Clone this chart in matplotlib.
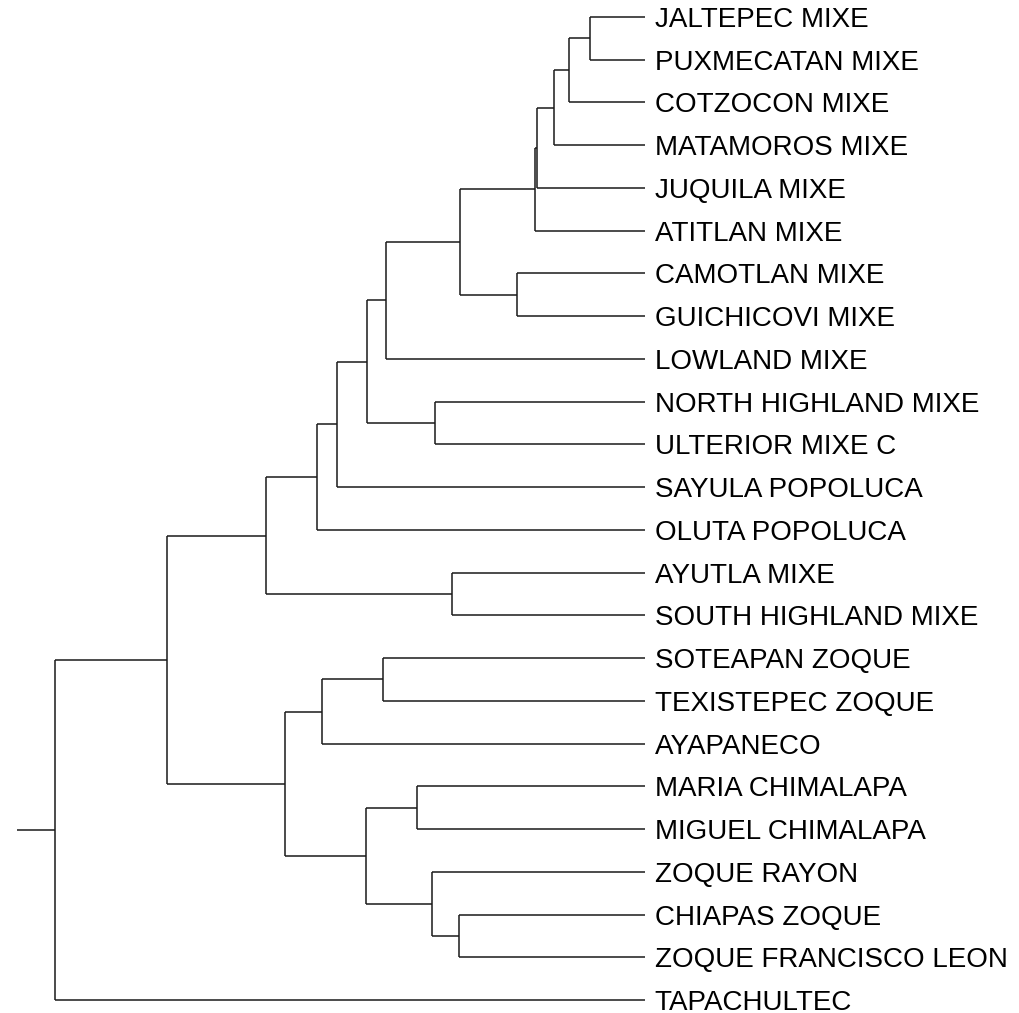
import matplotlib
matplotlib.use("Agg")
import matplotlib.pyplot as plt

# Leaf order from top to bottom
leaves = [
    "JALTEPEC MIXE", "PUXMECATAN MIXE", "COTZOCON MIXE", "MATAMOROS MIXE",
    "JUQUILA MIXE", "ATITLAN MIXE", "CAMOTLAN MIXE", "GUICHICOVI MIXE",
    "LOWLAND MIXE", "NORTH HIGHLAND MIXE", "ULTERIOR MIXE C", "SAYULA POPOLUCA",
    "OLUTA POPOLUCA", "AYUTLA MIXE", "SOUTH HIGHLAND MIXE", "SOTEAPAN ZOQUE",
    "TEXISTEPEC ZOQUE", "AYAPANECO", "MARIA CHIMALAPA", "MIGUEL CHIMALAPA",
    "ZOQUE RAYON", "CHIAPAS ZOQUE", "ZOQUE FRANCISCO LEON", "TAPACHULTEC",
]

# Merges: (left child, right child, height). Children are leaf names or
# earlier node ids (n0, n1, ...), heights measured from the tips.
merge_left = ["JALTEPEC MIXE", "n0", "n1", "n2", "n3", "CAMOTLAN MIXE", "n4",
              "n6", "NORTH HIGHLAND MIXE", "n7", "n9", "n10", "AYUTLA MIXE",
              "n11", "SOTEAPAN ZOQUE", "n14", "MARIA CHIMALAPA", "CHIAPAS ZOQUE",
              "ZOQUE RAYON", "n16", "n15", "n13", "n21"]
merge_right = ["PUXMECATAN MIXE", "COTZOCON MIXE", "MATAMOROS MIXE",
               "JUQUILA MIXE", "ATITLAN MIXE", "GUICHICOVI MIXE", "n5",
               "LOWLAND MIXE", "ULTERIOR MIXE C", "n8", "SAYULA POPOLUCA",
               "OLUTA POPOLUCA", "SOUTH HIGHLAND MIXE", "n12", "TEXISTEPEC ZOQUE",
               "AYAPANECO", "MIGUEL CHIMALAPA", "ZOQUE FRANCISCO LEON", "n17",
               "n18", "n19", "n20", "TAPACHULTEC"]
merge_height = [0.093, 0.129, 0.154, 0.183, 0.186, 0.217, 0.314,
                0.439, 0.356, 0.471, 0.522, 0.556, 0.327,
                0.642, 0.444, 0.547, 0.386, 0.315,
                0.361, 0.473, 0.610, 0.810, 1.000]
root_stub = 1.064

fig = plt.figure(figsize=(10.20, 10.13), dpi=100)
ax = fig.add_axes([0, 0, 1, 1])
ax.set_xlim(1.0932, -0.6356)
ax.set_ylim(23.304, -0.398)
ax.axis("off")

line_kw = dict(color="#1a1a1a", lw=1.1, solid_capstyle="butt")

pos = {}   # node -> (height, y)
for i, name in enumerate(leaves):
    pos[name] = (0.0, float(i))

for k, (a, b, h) in enumerate(zip(merge_left, merge_right, merge_height)):
    ha, ya = pos[a]
    hb, yb = pos[b]
    ax.plot([ha, h], [ya, ya], **line_kw)
    ax.plot([hb, h], [yb, yb], **line_kw)
    ax.plot([h, h], [ya, yb], **line_kw)
    pos[f"n{k}"] = (h, (ya + yb) / 2)

root_h, root_y = pos[f"n{len(merge_height) - 1}"]
ax.plot([root_stub, root_h], [root_y, root_y], **line_kw)

for i, name in enumerate(leaves):
    ax.annotate(name, (0.0, i), xytext=(7.0, 0.0), textcoords="offset points",
                ha="left", va="center_baseline", fontsize=20,
                family="Liberation Sans", color="#000000")

fig.savefig("out.png", dpi=100)
